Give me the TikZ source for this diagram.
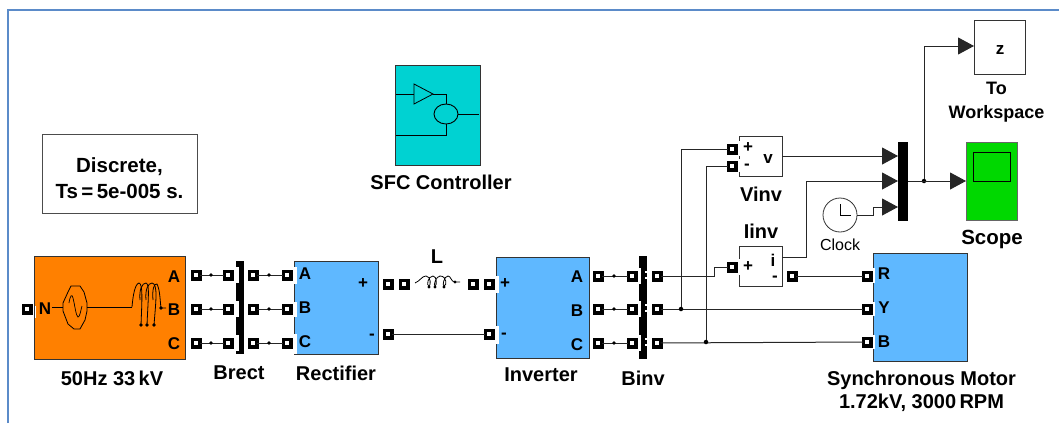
\documentclass[tikz,border=0pt]{standalone}
\usepackage{fontspec}
\setmainfont{Liberation Sans}
\usetikzlibrary{arrows.meta,calc,shapes.geometric}
\tikzset{
  wire/.style={draw=black!85,line width=1pt},
  thin wire/.style={draw=black,line width=0.8pt},
  arrowwire/.style={wire,-{Triangle[length=16pt,width=17pt]}},
  portbox/.style={draw=black,line width=3.6pt,fill=white,minimum size=7.4pt,inner sep=0pt,outer sep=0pt},
  junction/.style={circle,fill=black,minimum size=4.5pt,inner sep=0pt},
  block/.style={draw=black!80,line width=1pt,inner sep=0pt,outer sep=0pt},
  lab/.style={font=\fontsize{20}{22}\selectfont\bfseries,inner sep=0pt,align=center},
  lettr/.style={font=\fontsize{17}{20}\selectfont\bfseries,inner sep=0pt},
  bar/.style={fill=black,inner sep=0pt,outer sep=0pt},
  notch/.style={fill=white,draw=none}
}
\definecolor{orangeblk}{HTML}{FF8000}
\definecolor{blueblk}{HTML}{5FB8FF}
\definecolor{cyanblk}{HTML}{00D2D2}
\definecolor{greenblk}{HTML}{00D800}
\definecolor{framec}{HTML}{5B8BC9}
\begin{document}
\begin{tikzpicture}[x=1pt,y=-1pt]
\useasboundingbox (0,0) rectangle (1059,423);
% frame
\draw[framec,line width=2pt] (8,423) -- (8,10) -- (1059,10);

% blocks
\node[block,fill=orangeblk,minimum width=151pt,minimum height=103pt] (src) at (109.5,307.5) {};
\node[block,fill=blueblk,minimum width=84pt,minimum height=93pt] (rect) at (336,307.5) {};
\node[block,fill=blueblk,minimum width=93pt,minimum height=101pt] (inv) at (542.5,307.5) {};
\node[block,fill=blueblk,minimum width=94pt,minimum height=108pt] (motor) at (920,307) {};
\node[block,fill=cyanblk,minimum width=85pt,minimum height=100pt] (sfc) at (437.5,115) {};
\node[block,draw=black!70,fill=white,minimum width=155pt,minimum height=79pt] (disc) at (119.5,173.5) {};
\node[block,fill=white,minimum width=43pt,minimum height=40pt] (vinv) at (760.5,156) {};
\node[block,fill=white,minimum width=43pt,minimum height=40pt] (iinv) at (760.5,266) {};
\node[block,fill=white,minimum width=51pt,minimum height=54pt] (zblk) at (999.5,47) {};
\node[block,draw=black!60,fill=greenblk,minimum width=51pt,minimum height=78pt] (scope) at (991.5,181) {};
\node[block,draw=black,fill=greenblk,minimum width=37pt,minimum height=29pt] (screen) at (991.5,166.5) {};
\node[bar,minimum width=7.5pt,minimum height=93pt] (brect) at (240,307.5) {};
\node[bar,minimum width=8pt,minimum height=103pt] (binv) at (643,307.5) {};
\node[bar,minimum width=10pt,minimum height=79pt] (mux) at (903,181.5) {};

% notches
\fill[notch] (34.5,306) rectangle (36,318);
\foreach \a/\b in {267/284,302/317,334/354} \fill[notch] (293,\a) rectangle (297,\b);
\foreach \a/\b in {276/293,326/344} \fill[notch] (495,\a) rectangle (499,\b);
\foreach \a/\b in {268/283,302/316,335/349} \fill[notch] (872,\a) rectangle (875,\b);
\foreach \a/\b in {141/156,159/172} \fill[notch] (738,\a) rectangle (740.5,\b);
\fill[notch] (738,259) rectangle (740.5,275);
\foreach \a in {267,301,335} \fill[notch] (235.5,\a) rectangle (239,\a+16);
\foreach \a in {268,301,335} {\fill[notch] (638.5,\a) rectangle (641,\a+16); \fill[notch] (644.5,\a+3) rectangle (647.5,\a+5); \fill[notch] (644.5,\a+9) rectangle (647.5,\a+11);}

% named connection points
\coordinate (m1) at (898,156);
\coordinate (m2) at (898,181);
\coordinate (m3) at (898,207);
\coordinate (mo) at (908,181);
\coordinate (sc) at (966,181);
\coordinate (zi) at (974,46);
\coordinate (vo) at (782,156);
\coordinate (io) at (782,257);

% ports
\foreach \n/\x/\y in {pn/27/309,
  a1/196/275,b1/196/309,c1/196/343,a2/228/275,b2/228/309,c2/228/343,
  a3/253/275,b3/253/309,c3/253/343,a4/287/275,b4/287/309,c4/287/343,
  pl1/388/284,pm1/388/334,pl2/404/284,pl3/473/284,pl4/489/284,pm2/489/334,
  d1/598/276,e1/598/309,f1/598/343,d2/632/276,e2/632/309,f2/632/343,
  d3/657/276,e3/657/309,f3/657/343,
  vp/732/149,vm/732/166,ip/732/267,im/792/276,
  mr/867/276,my/867/309,mb/867/342}
  \node[portbox] (\n) at (\x,\y) {};

% wires
\foreach \p/\q in {a1/a2,b1/b2,c1/c2,a3/a4,b3/b4,c3/c4,d1/d2,e1/e2,f1/f2,pm1/pm2,im/mr,e3/my,f3/mb}
  \draw[wire] (\p) -- (\q);
\foreach \x/\y in {211/275,211/309,211/343,269/275,269/309,269/343,614/276,614/309,614/343}
  \fill (\x,\y) circle (1.8);
\node[junction] (jy) at (681,309) {};
\node[junction] (jb) at (706,342) {};
\node[junction] (jo) at (924,181) {};
\draw[wire] (d3) -- (714,276) -- (714,267) -- (ip);
\draw[wire] (jy) -- (jy |- vp) -- (vp);
\draw[wire] (jb) -- (jb |- vm) -- (vm);
\draw[arrowwire] (vo) -- (m1);
\draw[arrowwire] (io) -- (806,257) -- (806,181) -- (m2);
\draw[arrowwire] (mo) -- (sc);
\draw[arrowwire] (jo) -- (jo |- zi) -- (zi);

% clock
\node[draw=black!80,line width=0.8pt,circle,minimum size=34pt,inner sep=0pt,outer sep=0pt,fill=white] (clock) at (840,215) {};
\draw[thin wire] (840,204) -- (clock.center) -- (851,215);
\draw[arrowwire] (clock.east) -- (873,215) -- (873,207) -- (m3);
\node[font=\fontsize{16}{18}\selectfont,inner sep=0pt] (clocklab) at (840,245) {Clock};

% SFC icon
\node[draw=black,line width=0.9pt,ellipse,minimum width=24pt,minimum height=20pt,inner sep=0pt,outer sep=0pt] (sum) at (446,114) {};
\coordinate (tl) at (414,84); \coordinate (bl) at (414,104); \coordinate (tp) at (433,94);
\draw[thin wire] (tl) -- (tp) -- (bl) -- cycle;
\draw[thin wire] (396,94) -- (414,94);
\draw[thin wire] (tp) -- (446,94) -- (sum.north);
\draw[thin wire] (sum.east) -- (479,114);
\draw[thin wire] (sum.south) -- (446,135) -- (396,135);

% source icon
\draw[thin wire] (52,307) -- (63,307);
\draw[thin wire] (68,292) -- (63,303) -- (63,311) -- (68,324) -- (74,329) -- (80,329) -- (85,320) -- (87,311) -- (87,303) -- (84,292) -- (80,286) -- (71,286) -- cycle;
\draw[thin wire,line width=0.7pt] (69,303) .. controls (70,296) and (72,293) .. (73,298) .. controls (75,306) and (76,316) .. (78,317) .. controls (80,317) and (81,309) .. (82,306);
\draw[thin wire] (87,307) -- (132,307);
\draw[thin wire] (132,307) .. controls (133,295) and (135,284) .. (139,283) .. controls (143,284) and (142,300) .. (141,325);
\draw[thin wire] (140,300) .. controls (139,290) and (142,283) .. (146,283) .. controls (150,284) and (148,300) .. (147,325);
\draw[thin wire] (146,300) .. controls (145,290) and (148,283) .. (152,283) .. controls (158,284) and (156,300) .. (154,325);
\draw[thin wire] (153,300) .. controls (152,290) and (154,283) .. (157,284) .. controls (160,290) and (160,300) .. (161,308) -- (166,308);
\foreach \x in {141,147,154} \fill (\x,325) circle (1.8);
\fill (161,308) circle (1.8);

% inductor icon
\draw[thin wire] (415,283) .. controls (420,281) and (422,276) .. (426,276)
  .. controls (431,276) and (431,286) .. (429,286) .. controls (426,286) and (428,276) .. (433,276)
  .. controls (437,276) and (437,286) .. (435,286) .. controls (433,286) and (436,276) .. (440,276)
  .. controls (447,276) and (447,286) .. (444,286) .. controls (442,286) and (444,276) .. (448,276)
  .. controls (451,276) and (451,282) .. (455,282) -- (460,282);
\foreach \x in {429,435,444} \fill (\x,287) circle (1.7);
\fill (455,282) circle (1.7);

% port letters
\node[lettr] (sa) at (174,277) {A};
\node[lettr] (sb) at (174,310) {B};
\node[lettr] (sc2) at (174,344) {C};
\node[lettr] (sn) at (45,309) {N};
\node[lettr] (ra) at (305,274) {A};
\node[lettr] (rb) at (305,308) {B};
\node[lettr] (rc) at (305,342) {C};
\node[lettr] (rp) at (363,284) {+};
\node[lettr] (rm) at (372,337) {-};
\node[lettr] (ip2) at (505,284) {+};
\node[lettr] (im2) at (504,336) {-};
\node[lettr] (ia) at (577,277) {A};
\node[lettr] (ib) at (577,311) {B};
\node[lettr] (ic) at (577,345) {C};
\node[lettr] (vplus) at (748,148) {+};
\node[lettr] (vminus) at (747,167) {-};
\node[lettr] (vv) at (768,159) {v};
\node[lettr] (iplus) at (748,267) {+};
\node[lettr] (iminus) at (775,279) {-};
\node[lettr] (ii) at (773,260) {i};
\node[lettr] (mR) at (884,274) {R};
\node[lettr] (mY) at (884,308) {Y};
\node[lettr] (mB) at (884,342) {B};
\node[lettr] (zz) at (1000,50) {z};

% labels
\node[lab,font=\fontsize{20.5}{23}\selectfont\bfseries] (l0) at (119.5,178) {Discrete,\\[3pt]Ts\,=\,5e-005 s.};
\node[lab] (l1) at (441,182) {SFC Controller};
\node[lab] (l2) at (112,378) {50Hz 33\,kV};
\node[lab] (l3) at (239,373) {Brect};
\node[lab] (l4) at (336,373) {Rectifier};
\node[lab] (l5) at (437,257) {L};
\node[lab] (l6) at (541,375) {Inverter};
\node[lab] (l7) at (643,378) {Binv};
\node[lab] (l8) at (921.5,391.5) {Synchronous Motor\\[1pt]1.72kV, 3000\,RPM};
\node[lab] (l9) at (761,194) {Vinv};
\node[lab] (l10) at (761,231) {Iinv};
\node[lab,font=\fontsize{20.5}{23}\selectfont\bfseries] (l11) at (992,239) {Scope};
\node[lab,font=\fontsize{18}{24}\selectfont\bfseries] (l12) at (996.5,102.5) {To\\Workspace};
\end{tikzpicture}
\end{document}
